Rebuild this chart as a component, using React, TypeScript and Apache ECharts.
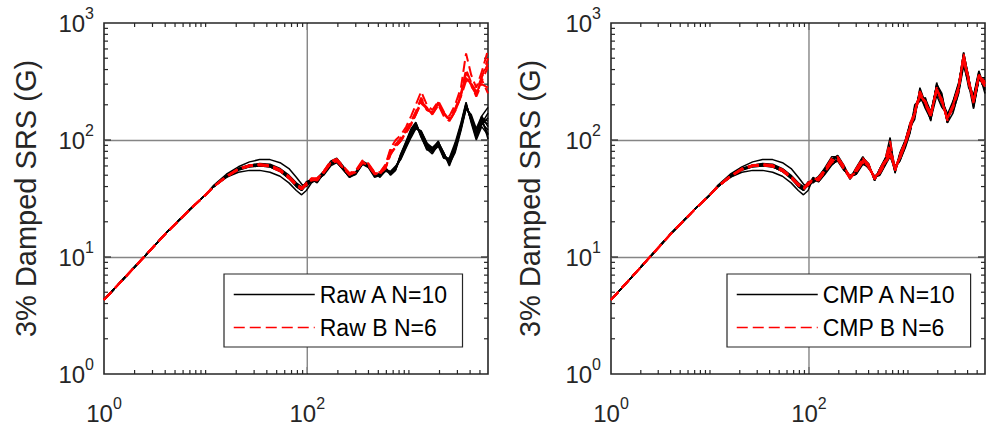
import React, { useEffect, useRef } from 'react';
import * as echarts from 'echarts';

// ---------- data ----------
const LOW_FREQ = [1, 2, 4, 7, 10];
const LOW_SRS = [4.3, 8.2, 15.7, 25.5, 34];

const FREQ = [12, 16, 21, 27, 34, 43, 54, 66, 78, 88, 98, 110, 125, 145, 170, 195, 225, 260, 300, 350, 400, 460, 520, 590, 660, 740, 830, 940, 1050, 1170, 1320, 1500, 1700, 1950, 2200, 2500, 2850, 3250, 3650, 4100, 4600, 5200, 6000];

// 12..98 Hz hump, set A (black)
const HUMP_A = [
  [41, 51, 59, 65, 68, 68, 64, 57, 48, 42, 40],
  [40, 48, 53, 55, 55, 53, 49, 43, 37, 34, 37],
  [40, 49, 56, 61, 63, 62, 57, 50, 43, 40, 43],
  [40, 49, 57, 61, 62, 60, 55, 47, 40, 37, 41],
  [40, 49, 56, 60, 61, 59, 54, 48, 41, 38, 44],
  [40, 49, 56, 60, 61, 60, 55, 48, 42, 39, 42],
  [40, 49, 56, 59, 60, 59, 54, 47, 40, 37, 43],
  [40, 50, 57, 61, 62, 61, 56, 49, 42, 38, 41],
  [40, 48, 55, 59, 60, 59, 54, 47, 41, 38, 42],
  [40, 49, 56, 60, 62, 61, 56, 49, 42, 39, 42],
];
// 12..98 Hz hump, set B (red)
const HUMP_B = [
  [40, 49, 56, 60, 61, 60, 55, 48, 41, 38, 42],
  [40, 49, 57, 61, 62, 61, 56, 49, 42, 39, 41],
  [40, 48, 56, 60, 61, 60, 55, 48, 41, 38, 43],
  [40, 49, 56, 60, 62, 60, 55, 48, 42, 38, 42],
  [40, 49, 56, 61, 61, 59, 54, 47, 41, 38, 42],
  [40, 49, 57, 60, 61, 60, 55, 48, 42, 39, 43],
];

// 110..6000 Hz, left panel
const RAW_A_TAIL = [
  [44, 47, 54, 66, 70, 60, 50, 53, 66, 62, 52, 48, 55, 54, 60, 68, 86, 105, 125, 120, 95, 78, 95, 78, 62, 78, 120, 185, 165, 125, 160, 190],
  [43, 46, 50, 60, 64, 56, 48, 51, 62, 58, 48, 50, 57, 50, 55, 76, 98, 125, 142, 108, 82, 84, 98, 70, 70, 95, 140, 210, 140, 100, 130, 110],
  [46, 44, 53, 64, 68, 58, 50, 52, 65, 61, 51, 49, 54, 53, 58, 70, 90, 112, 130, 115, 90, 84, 90, 75, 65, 83, 128, 198, 155, 115, 160, 130],
  [45, 45, 51, 62, 65, 56, 48, 53, 63, 59, 49, 52, 58, 51, 56, 74, 96, 122, 138, 105, 84, 76, 92, 72, 68, 90, 136, 205, 145, 108, 135, 155],
  [46, 43, 52, 63, 67, 58, 51, 52, 64, 60, 50, 50, 56, 52, 59, 69, 88, 110, 126, 118, 94, 86, 96, 78, 60, 82, 124, 186, 160, 118, 148, 112],
  [44, 46, 53, 62, 66, 57, 49, 51, 63, 61, 50, 51, 57, 53, 57, 73, 94, 118, 136, 110, 85, 80, 88, 70, 67, 88, 132, 202, 146, 104, 138, 170],
  [45, 45, 52, 64, 67, 57, 49, 52, 64, 60, 51, 49, 55, 52, 58, 71, 90, 114, 128, 116, 90, 82, 94, 77, 64, 81, 126, 190, 156, 116, 152, 145],
  [46, 46, 52, 63, 66, 58, 50, 53, 65, 59, 50, 50, 56, 51, 57, 75, 95, 120, 140, 107, 86, 79, 91, 71, 69, 89, 133, 200, 148, 106, 140, 122],
  [45, 45, 51, 62, 65, 56, 49, 52, 63, 60, 50, 51, 57, 52, 56, 70, 89, 111, 127, 117, 91, 85, 93, 76, 63, 84, 129, 194, 154, 114, 156, 102],
  [45, 44, 52, 63, 66, 57, 49, 52, 64, 60, 50, 50, 56, 52, 57, 72, 92, 116, 133, 112, 88, 81, 92, 74, 66, 86, 130, 195, 150, 112, 145, 138],
];
const RAW_B_TAIL = [
  [47, 47, 54, 66, 69, 60, 52, 55, 67, 63, 53, 53, 62, 85, 100, 110, 130, 160, 200, 260, 200, 180, 215, 175, 160, 200, 280, 550, 360, 280, 380, 590],
  [46, 45, 53, 63, 66, 58, 50, 54, 64, 60, 51, 52, 58, 75, 88, 98, 115, 135, 165, 210, 190, 165, 200, 160, 145, 175, 240, 380, 300, 240, 340, 500],
  [45, 46, 52, 64, 67, 59, 51, 53, 65, 61, 52, 51, 60, 82, 92, 102, 120, 145, 175, 225, 180, 172, 210, 168, 150, 185, 245, 340, 290, 245, 320, 420],
  [46, 46, 53, 63, 66, 58, 51, 54, 64, 61, 52, 52, 57, 78, 86, 100, 118, 138, 168, 215, 188, 168, 198, 172, 148, 178, 235, 320, 305, 260, 345, 450],
  [47, 46, 54, 65, 68, 59, 52, 54, 66, 62, 52, 53, 61, 80, 90, 104, 122, 142, 172, 230, 182, 170, 205, 165, 152, 182, 250, 400, 310, 250, 330, 250],
  [46, 47, 53, 64, 67, 58, 51, 53, 65, 60, 51, 52, 59, 76, 88, 98, 116, 136, 165, 205, 186, 174, 208, 170, 146, 176, 238, 350, 295, 235, 300, 280],
];

// 110..6000 Hz, right panel
const CMP_A_TAIL = [
  [44, 48, 58, 72, 72, 58, 47, 58, 72, 60, 46, 57, 70, 85, 55, 78, 100, 140, 165, 270, 200, 150, 290, 230, 140, 210, 300, 470, 350, 190, 330, 330],
  [47, 44, 51, 61, 68, 56, 49, 51, 62, 59, 48, 50, 61, 72, 58, 66, 88, 118, 190, 215, 225, 175, 250, 215, 170, 175, 250, 430, 300, 235, 380, 250],
  [45, 48, 55, 68, 74, 61, 47, 57, 70, 63, 45, 56, 69, 105, 52, 76, 99, 135, 160, 260, 190, 170, 295, 240, 150, 205, 290, 560, 340, 200, 340, 340],
  [48, 45, 53, 63, 66, 55, 50, 53, 65, 57, 49, 52, 62, 78, 60, 68, 91, 118, 200, 222, 230, 150, 240, 190, 165, 190, 262, 460, 310, 240, 390, 270],
  [43, 47, 57, 69, 72, 59, 46, 56, 71, 61, 46, 55, 68, 74, 54, 75, 97, 133, 168, 262, 198, 168, 288, 228, 145, 202, 292, 540, 336, 198, 338, 318],
  [46, 44, 52, 62, 67, 57, 49, 51, 64, 58, 48, 51, 62, 92, 58, 67, 86, 115, 185, 240, 185, 150, 300, 250, 140, 170, 255, 470, 280, 230, 370, 265],
  [45, 49, 57, 67, 70, 60, 47, 56, 68, 62, 46, 56, 67, 80, 53, 76, 98, 137, 162, 255, 195, 172, 292, 235, 142, 208, 298, 555, 345, 195, 335, 325],
  [47, 45, 53, 64, 68, 56, 48, 52, 65, 58, 49, 52, 63, 76, 59, 69, 92, 128, 150, 280, 205, 145, 310, 210, 165, 215, 310, 500, 300, 185, 330, 290],
  [44, 47, 56, 68, 73, 59, 47, 57, 70, 62, 45, 57, 69, 82, 55, 74, 97, 134, 165, 258, 200, 166, 286, 226, 148, 200, 290, 535, 332, 202, 342, 312],
  [46, 45, 54, 63, 67, 57, 49, 52, 64, 59, 48, 51, 62, 75, 58, 68, 91, 121, 176, 234, 216, 157, 260, 204, 158, 184, 266, 488, 300, 218, 366, 276],
];
const CMP_B_TAIL = [
  [45, 47, 56, 70, 72, 59, 48, 56, 70, 61, 47, 55, 67, 86, 55, 74, 96, 138, 175, 262, 205, 160, 275, 212, 150, 200, 285, 545, 335, 210, 355, 315],
  [46, 45, 54, 64, 69, 56, 47, 53, 66, 59, 48, 53, 64, 76, 57, 70, 93, 124, 168, 240, 212, 166, 268, 220, 146, 192, 272, 505, 312, 215, 350, 292],
  [44, 48, 56, 67, 71, 60, 48, 57, 70, 62, 46, 56, 68, 98, 54, 75, 97, 131, 170, 252, 200, 158, 282, 208, 155, 198, 288, 525, 328, 206, 362, 305],
  [47, 46, 53, 65, 68, 57, 49, 53, 65, 58, 48, 52, 63, 74, 58, 69, 92, 122, 178, 236, 215, 170, 262, 225, 150, 188, 268, 498, 305, 218, 342, 286],
  [45, 47, 55, 66, 71, 58, 47, 55, 69, 60, 47, 55, 67, 81, 55, 73, 95, 130, 166, 248, 208, 162, 278, 214, 152, 196, 282, 512, 322, 210, 356, 300],
  [46, 46, 54, 66, 70, 57, 48, 54, 67, 60, 48, 54, 66, 78, 57, 72, 95, 127, 172, 244, 210, 164, 272, 216, 153, 194, 278, 515, 318, 212, 352, 298],
];

const LEGEND_LEFT = ['Raw A N=10', 'Raw B N=6'];
const LEGEND_RIGHT = ['CMP A N=10', 'CMP B N=6'];
const Y_LABEL = '3% Damped SRS (G)';

const X_MIN = 1;
const X_MAX = 6000;
const Y_MIN = 1;
const Y_MAX = 1000;
const X_MINOR = [2, 3, 4, 5, 6, 7, 8, 9, 10, 20, 30, 40, 50, 60, 70, 80, 90, 200, 300, 400, 500, 600, 700, 800, 900, 1000, 2000, 3000, 4000, 5000];
const X_MAJOR = [100];
const Y_MINOR = [2, 3, 4, 5, 6, 7, 8, 9, 20, 30, 40, 50, 60, 70, 80, 90, 200, 300, 400, 500, 600, 700, 800, 900];
const Y_MAJOR = [10, 100];
const X_GRID = [100];
const LABELED_X_EXP = [0, 2];

// ---------- chart ----------
const FONT = 'Liberation Sans, Arial, sans-serif';
const INK = '#262626';
const GRID_GRAY = '#858585';

function curve(hump: number[], tail: number[]) {
  const xs = [...LOW_FREQ, ...FREQ];
  const ys = [...LOW_SRS, ...hump, ...tail];
  return xs.map((x, i) => [x, ys[i]]);
}

const rich = {
  b: { fontSize: 24, fontFamily: FONT, color: INK, lineHeight: 36, verticalAlign: 'middle' },
  s: { fontSize: 16, fontFamily: FONT, color: INK, lineHeight: 18, verticalAlign: 'top' },
};

function powLabel(v: number, allowed?: number[]) {
  const e = Math.log10(v);
  const r = Math.round(e);
  if (Math.abs(e - r) > 1e-6) return '';
  if (allowed && allowed.indexOf(r) < 0) return '';
  return '{b|10}{s|' + r + '}';
}

function tickData() {
  const d: number[][] = [];
  X_MINOR.forEach((v) => d.push([v, Y_MIN, 0, 4]));
  X_MAJOR.forEach((v) => d.push([v, Y_MIN, 0, 7]));
  Y_MINOR.forEach((v) => d.push([X_MIN, v, 1, 4]));
  Y_MAJOR.forEach((v) => d.push([X_MIN, v, 1, 7]));
  X_GRID.forEach((v) => d.push([v, Y_MIN, 2, 0]));
  return d;
}

function renderTick(_params: any, api: any) {
  const kind = api.value(2);
  const len = api.value(3);
  const tickStyle = { stroke: INK, lineWidth: 1.2 };
  if (kind === 0) {
    const v = api.value(0);
    const b = api.coord([v, Y_MIN]);
    const t = api.coord([v, Y_MAX]);
    return {
      type: 'group',
      children: [
        { type: 'line', shape: { x1: b[0], y1: b[1], x2: b[0], y2: b[1] - len }, style: tickStyle },
        { type: 'line', shape: { x1: t[0], y1: t[1], x2: t[0], y2: t[1] + len }, style: tickStyle },
      ],
    };
  }
  if (kind === 1) {
    const v = api.value(1);
    const l = api.coord([X_MIN, v]);
    const r = api.coord([X_MAX, v]);
    return {
      type: 'group',
      children: [
        { type: 'line', shape: { x1: l[0], y1: l[1], x2: l[0] + len, y2: l[1] }, style: tickStyle },
        { type: 'line', shape: { x1: r[0], y1: r[1], x2: r[0] - len, y2: r[1] }, style: tickStyle },
      ],
    };
  }
  const v = api.value(0);
  const b = api.coord([v, Y_MIN]);
  const t = api.coord([v, Y_MAX]);
  return {
    type: 'line',
    shape: { x1: b[0], y1: b[1] - 1, x2: t[0], y2: t[1] + 1 },
    style: { stroke: GRID_GRAY, lineWidth: 1.4 },
  };
}

function panelSeries(idx: number, names: string[], tailsA: number[][], tailsB: number[][]) {
  const s: any[] = [];
  s.push({
    type: 'custom',
    xAxisIndex: idx,
    yAxisIndex: idx,
    data: tickData(),
    renderItem: renderTick,
    clip: false,
    silent: true,
    z: 1,
  });
  tailsA.forEach((tail, i) => {
    s.push({
      type: 'line',
      name: names[0],
      xAxisIndex: idx,
      yAxisIndex: idx,
      data: curve(HUMP_A[i], tail),
      symbol: 'none',
      silent: true,
      z: 3,
      itemStyle: { color: '#000000' },
      lineStyle: { color: '#000000', width: 1.5 },
    });
  });
  tailsB.forEach((tail, i) => {
    s.push({
      type: 'line',
      name: names[1],
      xAxisIndex: idx,
      yAxisIndex: idx,
      data: curve(HUMP_B[i], tail),
      symbol: 'none',
      silent: true,
      z: 4,
      itemStyle: { color: '#ff0000' },
      lineStyle: { color: '#ff0000', width: 2, type: [11, 5] },
    });
  });
  return s;
}

function xAxis(gridIndex: number) {
  return {
    type: 'log',
    gridIndex,
    logBase: 10,
    min: X_MIN,
    max: X_MAX,
    splitNumber: 4,
    axisLine: { show: false },
    axisTick: { show: false },
    minorTick: { show: false },
    splitLine: { show: false },
    axisLabel: {
      margin: 21,
      formatter: (v: number) => powLabel(v, LABELED_X_EXP),
      rich,
      showMinLabel: true,
      showMaxLabel: true,
    },
  };
}

function yAxis(gridIndex: number, nameGap: number) {
  return {
    type: 'log',
    gridIndex,
    logBase: 10,
    min: Y_MIN,
    max: Y_MAX,
    splitNumber: 3,
    axisLine: { show: false },
    axisTick: { show: false },
    minorTick: { show: false },
    splitLine: {
      show: true,
      showMinLine: false,
      showMaxLine: false,
      lineStyle: { color: GRID_GRAY, width: 1.4 },
    },
    axisLabel: { margin: 10, formatter: (v: number) => powLabel(v), rich },
    name: Y_LABEL,
    nameLocation: 'middle',
    nameGap,
    nameTextStyle: { fontSize: 29, fontFamily: FONT, color: INK },
  };
}

function legend(left: number, data: string[]) {
  return {
    data,
    left,
    top: 274,
    orient: 'vertical',
    selectedMode: false,
    itemWidth: 81,
    itemHeight: 14,
    itemGap: 10,
    padding: [9, 13, 8, 9],
    backgroundColor: '#ffffff',
    borderColor: INK,
    borderWidth: 1.2,
    borderRadius: 0,
    itemStyle: { opacity: 0 },
    lineStyle: { width: 1.5 },
    textStyle: { fontSize: 23, fontFamily: FONT, color: '#000000' },
  };
}

const option: any = {
  animation: false,
  backgroundColor: '#ffffff',
  grid: [
    { left: 104, top: 23, width: 384, height: 351, show: true, borderColor: INK, borderWidth: 1.6, backgroundColor: 'transparent', containLabel: false },
    { left: 611, top: 23, width: 384, height: 351, show: true, borderColor: INK, borderWidth: 1.6, backgroundColor: 'transparent', containLabel: false },
  ],
  xAxis: [xAxis(0), xAxis(1)],
  yAxis: [yAxis(0, 64), yAxis(1, 67)],
  legend: [legend(224, LEGEND_LEFT), legend(727, LEGEND_RIGHT)],
  series: [
    ...panelSeries(0, LEGEND_LEFT, RAW_A_TAIL, RAW_B_TAIL),
    ...panelSeries(1, LEGEND_RIGHT, CMP_A_TAIL, CMP_B_TAIL),
  ],
};

export default function App() {
  const ref = useRef<HTMLDivElement>(null);
  useEffect(() => {
    if (!ref.current) return;
    const chart = echarts.init(ref.current, null, { renderer: 'svg' });
    chart.setOption(option);
    return () => chart.dispose();
  }, []);
  return (
    <div
      ref={ref}
      style={{ position: 'absolute', left: 0, top: 0, width: 988, height: 425, background: '#ffffff' }}
    />
  );
}
